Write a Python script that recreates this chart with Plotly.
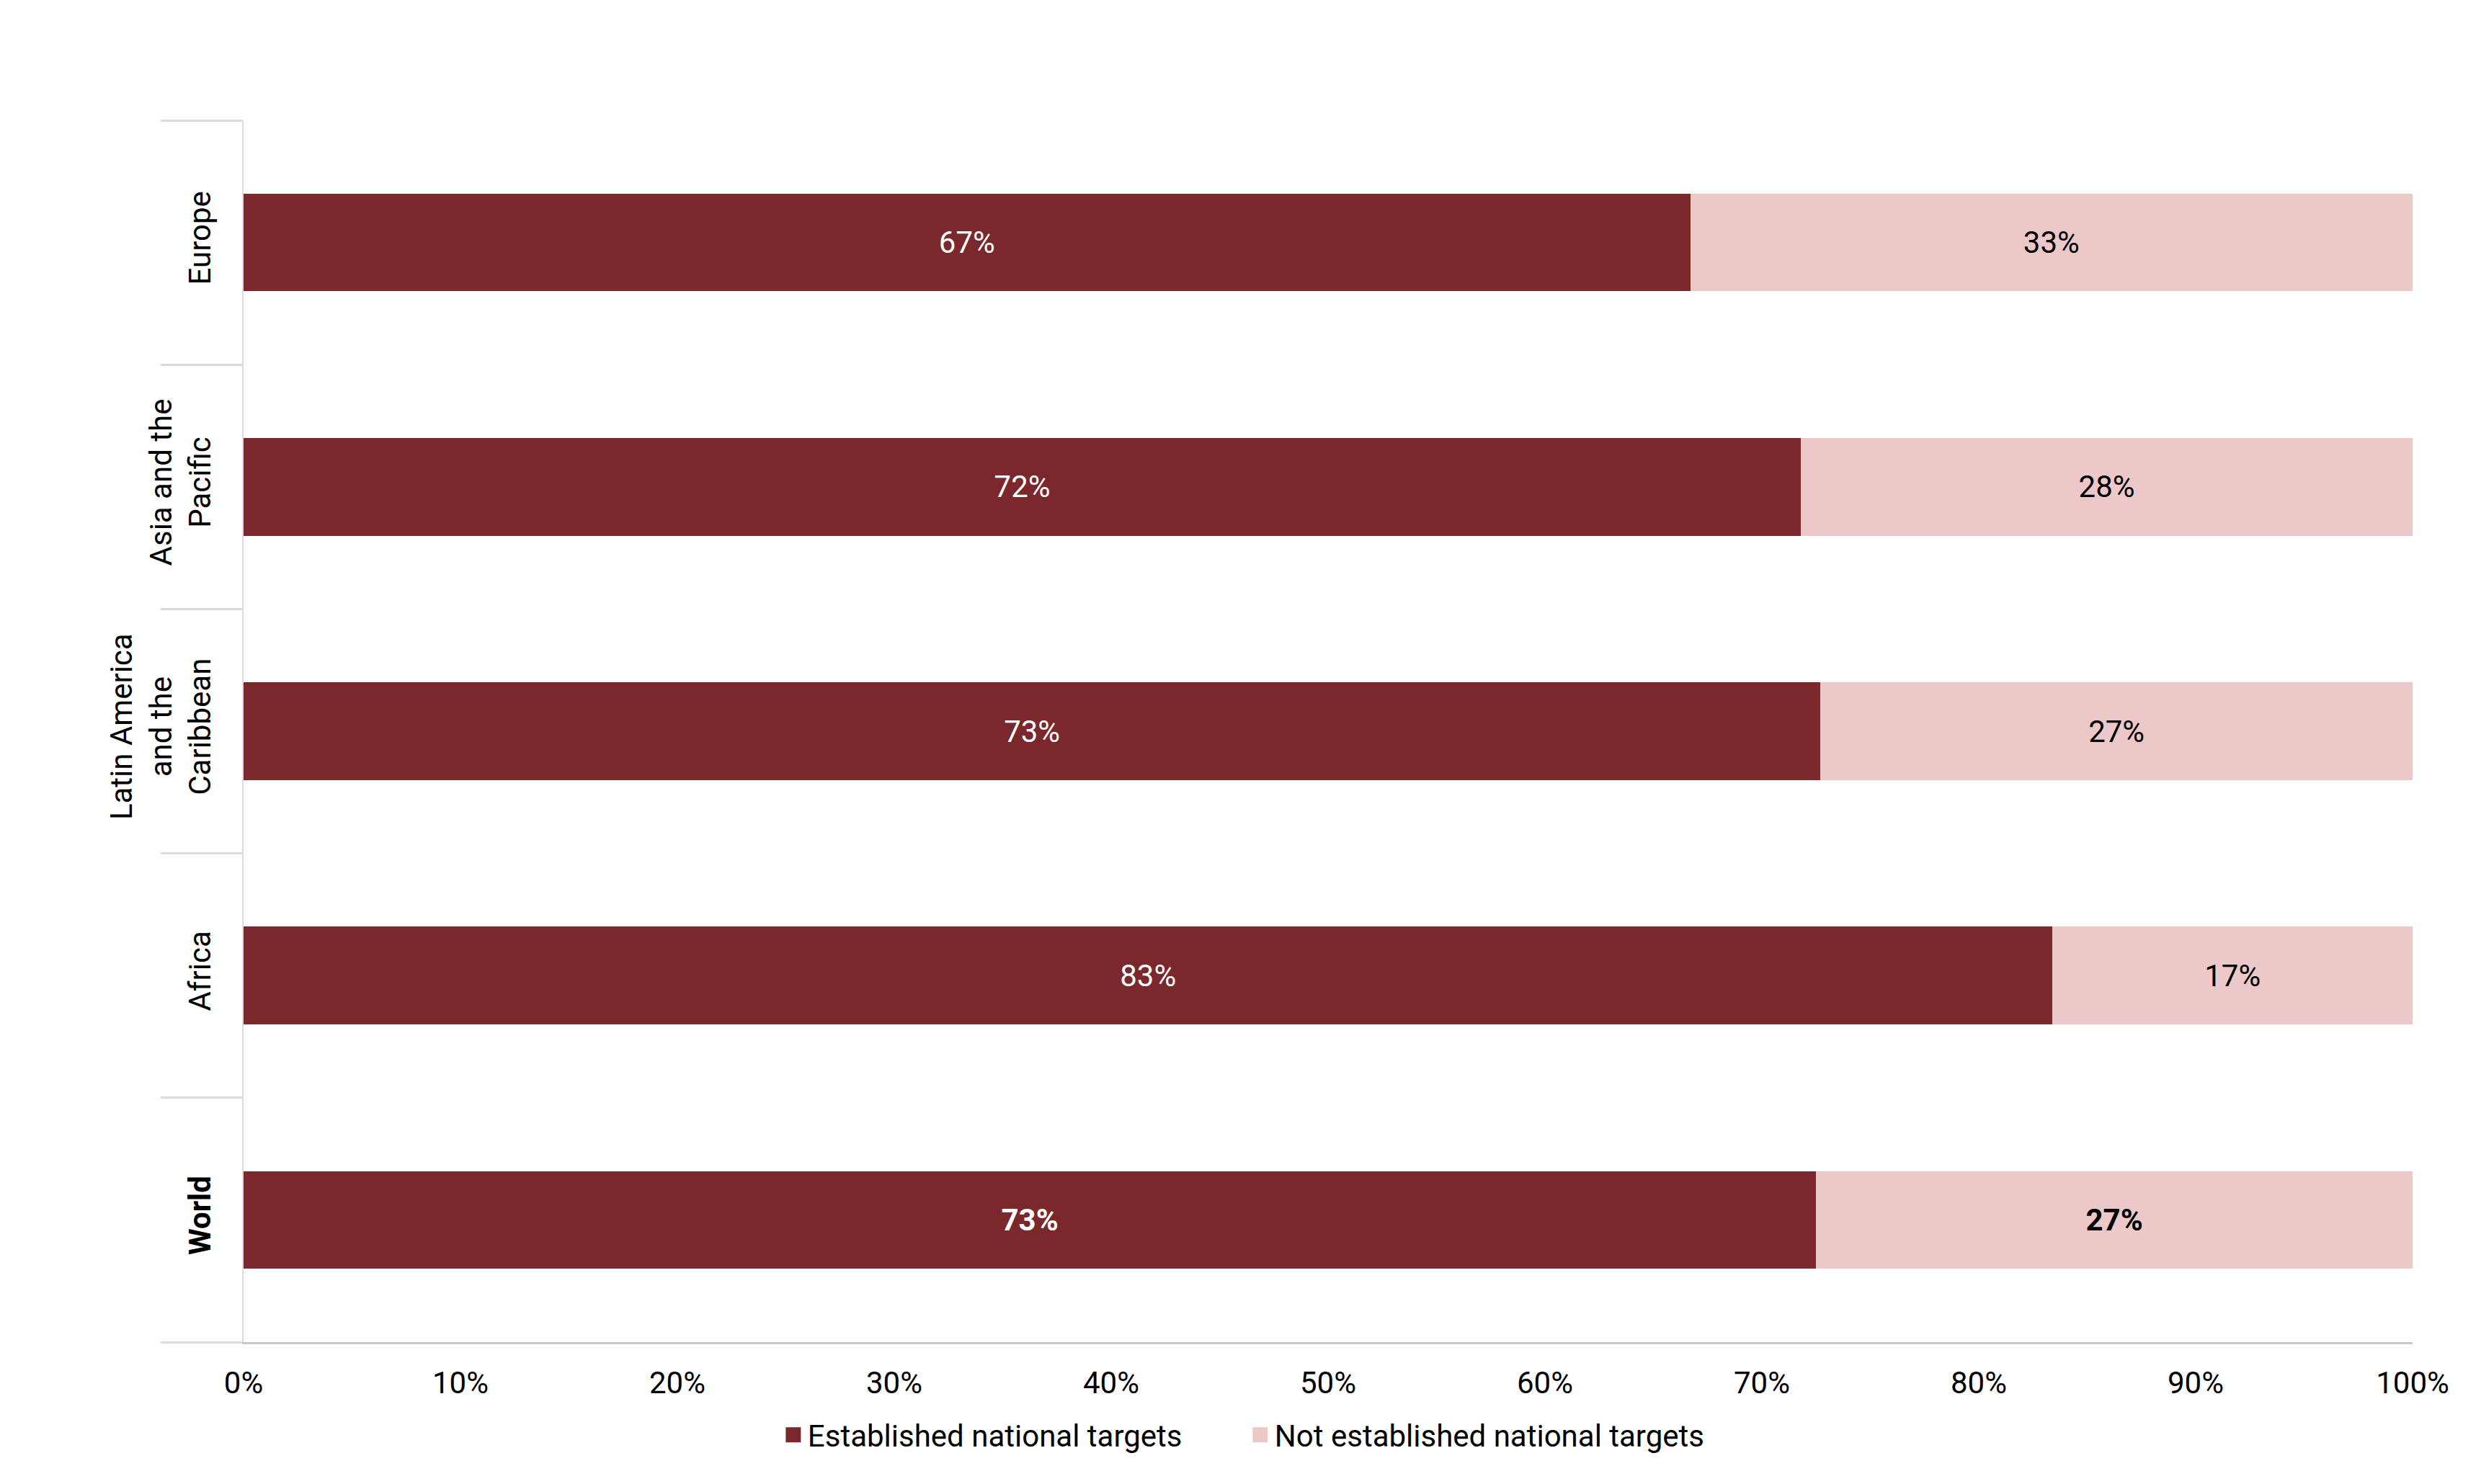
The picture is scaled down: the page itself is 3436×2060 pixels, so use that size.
import plotly.graph_objects as go

# Data (bottom to top on the chart)
categories = ["<b>World</b>", "Africa", "Latin America<br>and the<br>Caribbean",
              "Asia and the<br>Pacific", "Europe"]
established = [0.725, 0.834, 0.727, 0.718, 0.667]
not_established = [0.275, 0.166, 0.273, 0.282, 0.333]
established_labels = ["<b>73%</b>", "83%", "73%", "72%", "67%"]
not_established_labels = ["<b>27%</b>", "17%", "27%", "28%", "33%"]
series_names = ["Established national targets", "Not established national targets"]
colors = ["#7A282C", "#ECC8C8"]

FONT = "Roboto"
FS = 42

fig = go.Figure()
fig.add_trace(go.Bar(
    y=categories, x=established, orientation="h", name=series_names[0],
    marker=dict(color=colors[0], line=dict(width=0)),
    text=established_labels, textposition="inside", insidetextanchor="middle",
    textangle=0, constraintext="none",
    textfont=dict(family=FONT, size=FS, color="white"),
    showlegend=False, hoverinfo="skip"))
fig.add_trace(go.Bar(
    y=categories, x=not_established, orientation="h", name=series_names[1],
    marker=dict(color=colors[1], line=dict(width=0)),
    text=not_established_labels, textposition="inside", insidetextanchor="middle",
    textangle=0, constraintext="none",
    textfont=dict(family=FONT, size=FS, color="black"),
    showlegend=False, hoverinfo="skip"))

# legend proxies with larger square symbols
for name, c in zip(series_names, colors):
    fig.add_trace(go.Scatter(x=[None], y=[None], mode="markers", name=name,
                             marker=dict(symbol="square", size=16, color=c,
                                         line=dict(color=c, width=5)),
                             showlegend=True))

fig.update_layout(
    width=3436, height=2060,
    barmode="stack", bargap=0.6,
    paper_bgcolor="white", plot_bgcolor="white",
    margin=dict(l=330, r=96, t=159, b=205, autoexpand=False),
    font=dict(family=FONT, size=FS, color="black"),
    legend=dict(orientation="h", traceorder="normal",
                x=0.2468, xanchor="left", y=-0.076, yanchor="middle",
                font=dict(family=FONT, size=FS, color="black"),
                entrywidth=603, entrywidthmode="pixels",
                bgcolor="rgba(0,0,0,0)"),
    xaxis=dict(range=[0, 1], dtick=0.1, tick0=0, tickformat=".0%",
               showgrid=False, zeroline=False, showline=True,
               linecolor="#C8C8C8", linewidth=3, ticks="",
               tickfont=dict(family=FONT, size=FS, color="black"),
               ticklabelstandoff=18, fixedrange=True),
    yaxis=dict(type="category", categoryorder="array", categoryarray=categories,
               showgrid=False, zeroline=False, showline=True,
               linecolor="#DCDCDC", linewidth=2,
               ticks="outside", tickson="boundaries", ticklen=113,
               tickcolor="#DCDCDC", tickwidth=3,
               tickangle=-90, ticklabelstandoff=27,
               tickfont=dict(family=FONT, size=FS, color="black"),
               fixedrange=True),
)

fig.write_html("out.html")
